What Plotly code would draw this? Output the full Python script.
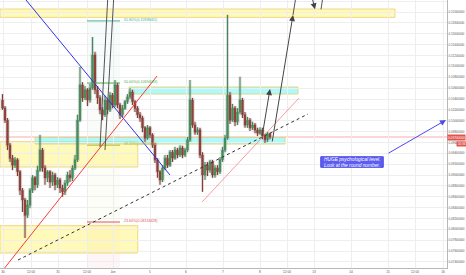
import plotly.graph_objects as go

# ---------------- data ----------------
first_open = 0.1038
close = [0.1023, 0.1001, 0.0955, 0.0931, 0.0918, 0.0928, 0.0906, 0.0872, 0.0854, 0.0826,
         0.0845, 0.0872, 0.0895, 0.0882, 0.0909, 0.0946, 0.0913, 0.0895, 0.0906, 0.0887,
         0.0900, 0.0882, 0.0891, 0.0876, 0.0869, 0.0885, 0.0900, 0.0895, 0.0913, 0.0928,
         0.1001, 0.1066, 0.1042, 0.1057, 0.1038, 0.1060, 0.1121, 0.1057, 0.1042, 0.1020,
         0.1011, 0.1038, 0.1020, 0.1047, 0.1029, 0.1066, 0.1029, 0.1011, 0.1023, 0.1035,
         0.1044, 0.1053, 0.1035, 0.1023, 0.1011, 0.1005, 0.0987, 0.0968, 0.0987, 0.0974,
         0.0955, 0.0928, 0.0906, 0.0891, 0.0913, 0.0931, 0.0918, 0.0942, 0.0931, 0.0946,
         0.0937, 0.0950, 0.0937, 0.0946, 0.0965, 0.1038, 0.0992, 0.0979, 0.0983, 0.0937,
         0.0900, 0.0918, 0.0909, 0.0924, 0.0900, 0.0913, 0.0906, 0.0928, 0.0946, 0.0968,
         0.1047, 0.1001, 0.1023, 0.0998, 0.1016, 0.1038, 0.1011, 0.0992, 0.1001, 0.0987,
         0.0992, 0.0983, 0.0977, 0.0983, 0.0972, 0.0965, 0.0976, 0.0970]
high = [0.1049, 0.1027, 0.1005, 0.0959, 0.0937, 0.0933, 0.0931, 0.0909, 0.0876, 0.0858,
        0.0854, 0.0876, 0.0900, 0.0898, 0.0917, 0.0974, 0.0950, 0.0918, 0.0909, 0.0909,
        0.0906, 0.0904, 0.0896, 0.0895, 0.0882, 0.0891, 0.0906, 0.0909, 0.0918, 0.0937,
        0.1011, 0.1099, 0.1071, 0.1064, 0.1060, 0.1068, 0.1154, 0.1127, 0.1064, 0.1047,
        0.1025, 0.1046, 0.1042, 0.1053, 0.1051, 0.1075, 0.1070, 0.1033, 0.1029, 0.1038,
        0.1049, 0.1060, 0.1057, 0.1038, 0.1027, 0.1016, 0.1009, 0.0990, 0.0992, 0.0990,
        0.0977, 0.0959, 0.0931, 0.0909, 0.0918, 0.0937, 0.0937, 0.0946, 0.0946, 0.0952,
        0.0950, 0.0955, 0.0954, 0.0950, 0.0970, 0.1075, 0.1042, 0.0998, 0.0988, 0.0987,
        0.0942, 0.0924, 0.0924, 0.0928, 0.0928, 0.0918, 0.0918, 0.0933, 0.0952, 0.0974,
        0.1195, 0.1053, 0.1031, 0.1027, 0.1023, 0.1081, 0.1042, 0.1016, 0.1007, 0.1005,
        0.0998, 0.0996, 0.0987, 0.0988, 0.0987, 0.0976, 0.0979, 0.0977]
low = [0.1020, 0.0996, 0.0946, 0.0924, 0.0909, 0.0913, 0.0898, 0.0863, 0.0832, 0.0784,
       0.0821, 0.0839, 0.0867, 0.0872, 0.0876, 0.0906, 0.0906, 0.0882, 0.0887, 0.0876,
       0.0880, 0.0872, 0.0876, 0.0867, 0.0860, 0.0863, 0.0880, 0.0887, 0.0889, 0.0909,
       0.0924, 0.0998, 0.1035, 0.1038, 0.1027, 0.1033, 0.1057, 0.1049, 0.1031, 0.1012,
       0.1001, 0.1007, 0.1012, 0.1016, 0.1023, 0.1025, 0.1023, 0.1003, 0.1007, 0.1020,
       0.1031, 0.1040, 0.1029, 0.1016, 0.1005, 0.0998, 0.0979, 0.0961, 0.0965, 0.0968,
       0.0950, 0.0922, 0.0895, 0.0882, 0.0887, 0.0909, 0.0913, 0.0915, 0.0924, 0.0928,
       0.0931, 0.0933, 0.0931, 0.0933, 0.0942, 0.0961, 0.0987, 0.0974, 0.0974, 0.0931,
       0.0869, 0.0891, 0.0898, 0.0904, 0.0895, 0.0895, 0.0900, 0.0902, 0.0924, 0.0942,
       0.0965, 0.0994, 0.0998, 0.0990, 0.0992, 0.1012, 0.1005, 0.0987, 0.0987, 0.0981,
       0.0983, 0.0977, 0.0972, 0.0974, 0.0966, 0.0959, 0.0961, 0.0966]
open_ = [first_open] + close[:-1]
bar_index = list(range(len(close)))

last_price = 0.0970
price_label = "0.09700000"
countdown_label = "00:36"

time_tick_pos = [0.2, 11.4, 22.2, 33.8, 44.2, 59, 73.4, 88.2, 103, 113.8, 124.6, 139.4, 154.2, 165, 176.2]
time_tick_text = ["30", "12:00", "31", "12:00", "Jun", "5", "6", "7", "8", "12:00", "13", "14", "15", "12:00", "16"]

price_ticks = [0.074, 0.076, 0.078, 0.080, 0.082, 0.084, 0.086, 0.088, 0.090, 0.092, 0.094, 0.096,
               0.098, 0.100, 0.102, 0.104, 0.106, 0.108, 0.110, 0.112, 0.114, 0.116, 0.118, 0.120, 0.122]
price_tick_text = ["%.8f" % v for v in price_ticks]

fib_levels = [0.11838, 0.10694, 0.09550, 0.08135]
fib_text = ["61.80%(0.11838061)", "50.00%(0.10694069)", "38.20%(0.09550076)", "23.60%(0.08134628)"]
fib_colors = ["#3fb39a", "#4caf50", "#b5b83a", "#e05656"]
fib_fill = ["rgba(0,150,136,0.035)", "rgba(76,175,80,0.035)", "rgba(200,190,60,0.035)", "rgba(240,80,80,0.05)"]
fib_x = [33.8, 47.0]

# drawing anchors (bar index, price)
yellow_zones = [(-1, 157, 0.11904, 0.12057), (-1, 54.1, 0.09148, 0.09614), (-1, 54.1, 0.07564, 0.08067)]
cyan_zones = [(50.6, 118.2, 0.10492, 0.10621), (13.0, 113.0, 0.09571, 0.09691)]
blue_trend = [(9.4, 0.12223), (67.0, 0.09000)]
red_trend = [(0.2, 0.07251), (61.8, 0.10823)]
pink_trend = [(79.8, 0.08503), (118.6, 0.10418)]
dashed_trend = [(6.2, 0.07435), (122.2, 0.10124)]
tall_lines = [[(39.0, 0.09516), (42.2, 0.1235)], [(41.0, 0.09460), (44.6, 0.1235)], [(116.2, 0.11947), (117.6, 0.1235)],
              [(128.4, 0.1235), (127.4, 0.12052)]]
black_arrows = [[(103.8, 0.09700), (107.0, 0.10584)], [(107.8, 0.09590), (116.2, 0.11947)],
                [(123.4, 0.1235), (125.0, 0.12052)]]
note_box = (127.3, 152.3, 0.09142, 0.09337)
note_text = "<i>HUGE psychological level.<br>Look at the round number.</i>"
blue_arrow = [(153.8, 0.09387), (177.4, 0.10013)]

# ---------------- figure ----------------
fig = go.Figure()

shapes = []
band_edges = fib_levels + [0.05846643]
for k in range(4):
    shapes.append(dict(type="rect", xref="x", yref="y", x0=fib_x[0], x1=fib_x[1],
                       y0=band_edges[k + 1], y1=band_edges[k], fillcolor=fib_fill[k],
                       line=dict(width=0), layer="below"))
shapes.append(dict(type="line", xref="paper", yref="y", x0=0, x1=1, y0=last_price, y1=last_price,
                   line=dict(color="rgba(235,90,90,0.25)", width=2), layer="below"))
for (x0, x1, y0, y1) in yellow_zones:
    shapes.append(dict(type="rect", xref="x", yref="y", x0=x0, x1=x1, y0=y0, y1=y1,
                       fillcolor="rgba(255,245,130,0.55)", line=dict(color="#f0d67a", width=1), layer="below"))
for (x0, x1, y0, y1) in cyan_zones:
    shapes.append(dict(type="rect", xref="x", yref="y", x0=x0, x1=x1, y0=y0, y1=y1,
                       fillcolor="rgba(120,245,250,0.6)", line=dict(color="#dcd88a", width=1), layer="below"))
for lvl, col in zip(fib_levels, fib_colors):
    shapes.append(dict(type="line", xref="x", yref="y", x0=fib_x[0], x1=fib_x[1], y0=lvl, y1=lvl,
                       line=dict(color=col, width=1)))


def seg(p, color, width=1, dash="solid"):
    return dict(type="line", xref="x", yref="y", x0=p[0][0], y0=p[0][1], x1=p[1][0], y1=p[1][1],
                line=dict(color=color, width=width, dash=dash))


shapes.append(seg(blue_trend, "#3030e8"))
shapes.append(seg(red_trend, "#f23c3c"))
shapes.append(seg(pink_trend, "rgba(245,90,90,0.6)"))
shapes.append(seg(dashed_trend, "#333333", 1, "3px,3px"))
for tl in tall_lines:
    shapes.append(seg(tl, "#555555"))
shapes.append(dict(type="rect", xref="x", yref="y", x0=note_box[0], x1=note_box[1], y0=note_box[2], y1=note_box[3],
                   fillcolor="#5d5df2", line=dict(color="#4a4ae0", width=1)))

fig.add_trace(go.Candlestick(x=bar_index, open=open_, high=high, low=low, close=close,
                             increasing=dict(line=dict(color="rgba(150,150,150,0.35)", width=3),
                                             fillcolor="rgba(150,150,150,0.35)"),
                             decreasing=dict(line=dict(color="rgba(150,150,150,0.35)", width=3),
                                             fillcolor="rgba(150,150,150,0.35)"),
                             whiskerwidth=0, showlegend=False, hoverinfo="skip"))
fig.add_trace(go.Candlestick(x=bar_index, open=open_, high=high, low=low, close=close,
                             increasing=dict(line=dict(color="#3f8a56", width=1), fillcolor="#4f9a64"),
                             decreasing=dict(line=dict(color="#8c3b33", width=1), fillcolor="#a0463b"),
                             whiskerwidth=0, showlegend=False, hoverinfo="skip"))

annotations = []
for lvl, txt, col in zip(fib_levels, fib_text, fib_colors):
    annotations.append(dict(x=fib_x[1] + 0.8, y=lvl, xref="x", yref="y", text=txt, showarrow=False,
                            xanchor="left", yanchor="middle", yshift=1,
                            font=dict(size=3.6, color=col, family="Arial")))
for arr in black_arrows:
    annotations.append(dict(x=arr[1][0], y=arr[1][1], ax=arr[0][0], ay=arr[0][1], xref="x", yref="y",
                            axref="x", ayref="y", text="", showarrow=True, arrowhead=2, arrowsize=1.2,
                            arrowwidth=1, arrowcolor="#444444"))
annotations.append(dict(x=blue_arrow[1][0], y=blue_arrow[1][1], ax=blue_arrow[0][0], ay=blue_arrow[0][1],
                        xref="x", yref="y", axref="x", ayref="y", text="", showarrow=True, arrowhead=2,
                        arrowsize=1.2, arrowwidth=1, arrowcolor="#4a4af0"))
annotations.append(dict(x=note_box[0] + 0.5, y=(note_box[2] + note_box[3]) / 2, xref="x", yref="y",
                        text=note_text, showarrow=False, xanchor="left", yanchor="middle", align="left",
                        font=dict(size=4.8, color="white", family="Arial")))
annotations.append(dict(x=1, y=last_price, xref="paper", yref="y", text=price_label, showarrow=False,
                        xanchor="left", yanchor="middle", bgcolor="#e2554c", width=17, height=5, borderpad=0,
                        font=dict(size=3.2, color="white", family="Arial")))
annotations.append(dict(x=1.02, y=last_price, xref="paper", yref="y", text=countdown_label, showarrow=False,
                        xanchor="left", yanchor="top", yshift=-3.5, bgcolor="#e2554c", width=10, height=4,
                        borderpad=0, font=dict(size=3, color="white", family="Arial")))

fig.update_layout(
    width=466, height=275, margin=dict(l=0, r=19, t=0, b=7),
    paper_bgcolor="white", plot_bgcolor="white",
    shapes=shapes, annotations=annotations, showlegend=False,
    xaxis=dict(range=[-1, 177.8], tickvals=time_tick_pos, ticktext=time_tick_text,
               showgrid=True, gridcolor="#eeeeee", gridwidth=1, zeroline=False,
               showline=True, linecolor="#b8b8b8", linewidth=1, ticks="",
               tickfont=dict(size=3.2, color="#555555", family="Arial"),
               rangeslider=dict(visible=False), automargin=False, fixedrange=True),
    yaxis=dict(side="right", range=[0.07288, 0.12223], tickvals=price_ticks, ticktext=price_tick_text,
               showgrid=True, gridcolor="#eeeeee", gridwidth=1, zeroline=False,
               showline=True, linecolor="#b8b8b8", linewidth=1, ticks="",
               tickfont=dict(size=3, color="#555555", family="Arial"), automargin=False, fixedrange=True),
)

fig.write_html("out.html")
